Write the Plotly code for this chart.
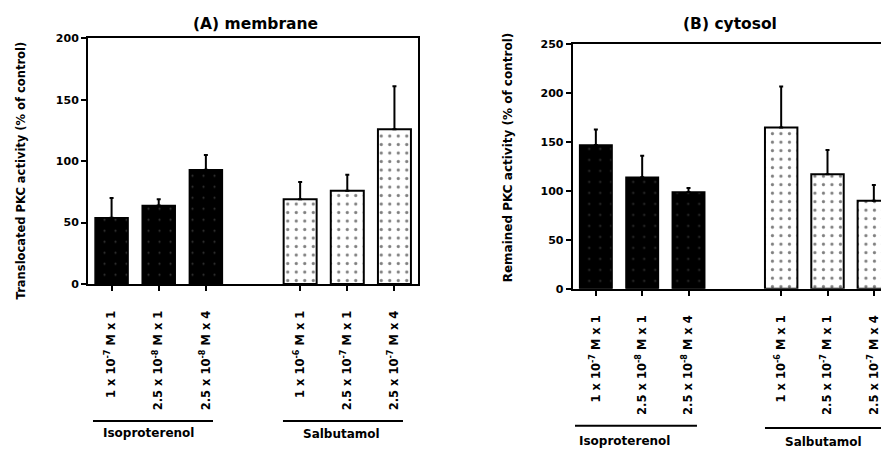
import plotly.graph_objects as go

# ---- data ----
positions = [0, 1, 2, 4, 5, 6]
tick_labels_a = ["1 x 10<sup>-7</sup> M x 1", "2.5 x 10<sup>-8</sup> M x 1", "2.5 x 10<sup>-8</sup> M x 4",
                 "1 x 10<sup>-6</sup> M x 1", "2.5 x 10<sup>-7</sup> M x 1", "2.5 x 10<sup>-7</sup> M x 4"]
tick_labels_b = tick_labels_a
iso_a = [54, 64, 93]
iso_a_err = [16, 5, 12]
sal_a = [69, 76, 126]
sal_a_err = [14, 13, 35]
iso_b = [147, 114, 99]
iso_b_err = [16, 22, 4]
sal_b = [165, 117, 90]
sal_b_err = [42, 25, 16]

FONT = "DejaVu Sans"
fig = go.Figure()

def add_bars(x, y, err, xa, ya, dark):
    if dark:
        marker = dict(color="black", line=dict(color="black", width=1.5),
                      pattern=dict(shape=".", fgcolor="#6a6a6a", bgcolor="black", size=11, solidity=0.03))
    else:
        marker = dict(color="white", line=dict(color="black", width=2),
                      pattern=dict(shape=".", fgcolor="black", bgcolor="white", size=8.5, solidity=0.11))
    fig.add_trace(go.Bar(x=x, y=y, width=0.7, marker=marker, xaxis=xa, yaxis=ya,
                         showlegend=False,
                         error_y=dict(type="data", array=err, arrayminus=[0]*len(err), symmetric=False,
                                      color="black", thickness=2, width=2)))

add_bars(positions[:3], iso_a, iso_a_err, "x", "y", True)
add_bars(positions[3:], sal_a, sal_a_err, "x", "y", False)
add_bars(positions[:3], iso_b, iso_b_err, "x2", "y2", True)
add_bars(positions[3:], sal_b, sal_b_err, "x2", "y2", False)

xtickfont = dict(family=FONT, size=11.5, color="black", weight="bold")
ytickfont = dict(family=FONT, size=11, color="black", weight="bold")
common_x = dict(showline=True, linewidth=2, linecolor="black", mirror=True, ticks="outside",
                ticklen=5, tickwidth=1.5, tickcolor="black", tickvals=positions, tickangle=-90,
                tickfont=xtickfont, showgrid=False, zeroline=False, ticklabelstandoff=15)
common_y = dict(showline=True, linewidth=2, linecolor="black", ticks="outside", ticklen=5,
                tickwidth=1.5, tickcolor="black", tickfont=ytickfont, showgrid=False, zeroline=False,
                dtick=50)

fig.update_layout(
    width=889, height=457, margin=dict(l=0, r=0, t=0, b=0),
    paper_bgcolor="white", plot_bgcolor="white", bargap=0.3,
    xaxis=dict(common_x, domain=[0.0900, 0.4612], range=[-0.5, 6.5], ticktext=tick_labels_a, anchor="y"),
    yaxis=dict(common_y, domain=[0.3917, 0.9453], range=[0, 200], mirror=True, anchor="x"),
    xaxis2=dict(common_x, domain=[0.6352, 1.0], range=[-0.5, 6.5], ticktext=tick_labels_b, anchor="y2"),
    yaxis2=dict(common_y, domain=[0.3814, 0.9315], range=[0, 250], mirror=False, anchor="x2"),
)

def note(text, x, y, size, angle=0):
    fig.add_annotation(text=text, x=x, y=y, xref="paper", yref="paper", xanchor="center",
                       yanchor="middle", showarrow=False, textangle=angle,
                       font=dict(family=FONT, size=size, color="black", weight="bold"))

note("(A) membrane", 0.278, 0.977, 15.5)
note("(B) cytosol", 0.812, 0.977, 15.5)
note("Translocated PKC activity (% of control)", 0.0146, 0.6477, 11.5, -90)
note("Remained PKC activity (% of control)", 0.5624, 0.6772, 12, -90)

groups = [
    ("Isoproterenol", 0.0956, 0.2306, 0.0832, 0.158, 0.057),
    ("Salbutamol", 0.3093, 0.4443, 0.0832, 0.3746, 0.055),
    ("Isoproterenol", 0.6378, 0.7750, 0.0729, 0.6935, 0.0383),
    ("Salbutamol", 0.8515, 0.9843, 0.0678, 0.9173, 0.035),
]
for name, x0, x1, yl, xt, yt in groups:
    fig.add_shape(type="line", xref="paper", yref="paper", x0=x0, x1=x1, y0=yl, y1=yl,
                  line=dict(color="black", width=2))
    note(name, xt, yt, 12)

fig.write_html("out.html")
